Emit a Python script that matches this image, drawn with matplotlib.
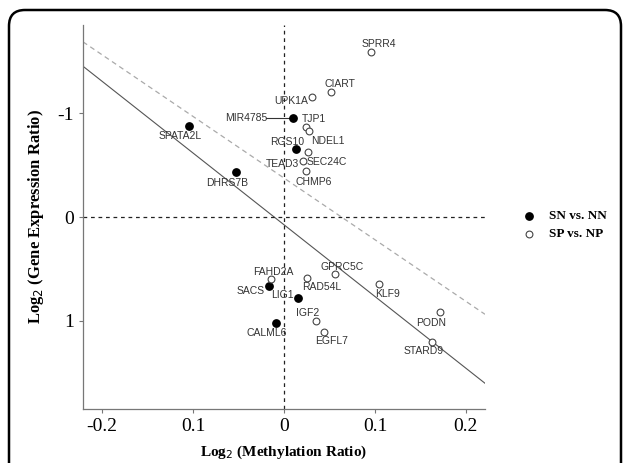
import numpy as np
import matplotlib.pyplot as plt
from matplotlib.patches import FancyBboxPatch

# SN vs. NN (filled)
genes_sn = ["SPATA2L", "DHRS7B", "MIR4785", "RGS10", "SACS", "LIG1", "CALML6"]
meth_sn = [-0.104, -0.053, 0.010, 0.013, -0.016, 0.015, -0.009]
expr_sn = [-0.876, -0.435, -0.957, -0.657, 0.663, 0.783, 1.024]

# SP vs. NP (open)
genes_sp = ["SPRR4", "CIART", "UPK1A", "TJP1", "NDEL1", "SEC24C", "TEAD3", "CHMP6",
            "FAHD2A", "RAD54L", "GPRC5C", "KLF9", "PODN", "STARD9", "IGF2", "EGFL7"]
meth_sp = [0.096, 0.052, 0.031, 0.024, 0.028, 0.026, 0.021, 0.024,
           -0.014, 0.025, 0.056, 0.104, 0.172, 0.163, 0.035, 0.044]
expr_sp = [-1.597, -1.208, -1.163, -0.870, -0.828, -0.628, -0.544, -0.441,
           0.602, 0.586, 0.551, 0.650, 0.921, 1.208, 1.002, 1.108]

# regression lines: intercept, slope
fit_sn = [0.075, 6.93]
fit_sp = [-0.376, 5.955]

x_ticks = [-0.2, -0.1, 0, 0.1, 0.2]
x_ticklabels = ["-0.2", "0.1", "0", "0.1", "0.2"]
y_ticks = [-1, 0, 1]
y_ticklabels = ["-1", "0", "1"]

# label positions (data coords)
label_pos = {
    "SPRR4": (0.1041, -1.669), "CIART": (0.0615, -1.282), "UPK1A": (0.0077, -1.121),
    "MIR4785": (-0.042, -0.954), "TJP1": (0.033, -0.944), "NDEL1": (0.0484, -0.737),
    "RGS10": (0.0033, -0.725), "SEC24C": (0.0467, -0.531), "TEAD3": (-0.0022, -0.515),
    "CHMP6": (0.0322, -0.341), "SPATA2L": (-0.114, -0.780), "DHRS7B": (-0.0626, -0.331),
    "GPRC5C": (0.0644, 0.480), "FAHD2A": (-0.0121, 0.534), "RAD54L": (0.041, 0.679),
    "SACS": (-0.0371, 0.712), "LIG1": (-0.0014, 0.754), "KLF9": (0.1138, 0.744),
    "IGF2": (0.0259, 0.928), "PODN": (0.1615, 1.021), "CALML6": (-0.0187, 1.118),
    "EGFL7": (0.0524, 1.201), "STARD9": (0.1531, 1.298),
}

W, H = 629, 463
fig = plt.figure(figsize=(6.29, 4.63), dpi=100)

# rounded frame
bg = fig.add_axes([0, 0, 1, 1], zorder=-1)
bg.set_xlim(0, W)
bg.set_ylim(H, 0)
bg.axis("off")
bg.add_patch(FancyBboxPatch((9, 10), 612, 480, boxstyle="round,pad=0,rounding_size=16",
                            fc="white", ec="black", lw=1.8))

ax = fig.add_axes([83 / W, 1 - 409 / H, (485 - 83) / W, (409 - 25) / H])
ax.patch.set_alpha(0)
xlim = (-0.221, 0.221)
ax.set_xlim(*xlim)
ax.set_ylim(1.855, -1.855)

xs = np.array(xlim)
ax.plot(xs, fit_sp[0] + fit_sp[1] * xs, color="#aaaaaa", lw=0.9, ls=(0, (4, 3)))
ax.plot(xs, fit_sn[0] + fit_sn[1] * xs, color="#555555", lw=0.8)
ax.axvline(0, color="#222222", lw=0.9, ls=(0, (3, 3)))
ax.axhline(0, color="#222222", lw=0.9, ls=(0, (3, 3)))

ax.scatter(meth_sn, expr_sn, s=28, color="black", zorder=3)
ax.scatter(meth_sp, expr_sp, s=24, facecolor="white", edgecolor="#444444", lw=0.8, zorder=3)

lab_font = dict(family=["Liberation Sans", "DejaVu Sans"], size=7.5, color="#333333",
                ha="center", va="center")
for g in genes_sn + genes_sp:
    lx, ly = label_pos[g]
    ax.text(lx, ly, g, zorder=4, **lab_font)

# leader line for MIR4785
i = genes_sn.index("MIR4785")
ax.plot([-0.0195, meth_sn[i] - 0.002], [expr_sn[i], expr_sn[i]], color="#333333", lw=0.8)

for s in ["top", "right"]:
    ax.spines[s].set_visible(False)
for s in ["left", "bottom"]:
    ax.spines[s].set_color("#777777")
    ax.spines[s].set_linewidth(0.9)

ax.set_xticks(x_ticks)
ax.set_xticklabels(x_ticklabels)
ax.set_yticks(y_ticks)
ax.set_yticklabels(y_ticklabels)
ax.tick_params(colors="#777777", length=3, width=0.8, labelcolor="black",
               labelsize=14)
for t in ax.get_xticklabels() + ax.get_yticklabels():
    t.set_family(["Liberation Serif", "DejaVu Serif"])

ax.set_xlabel(r"Log$_2$ (Methylation Ratio)", family=["Liberation Serif", "DejaVu Serif"],
              fontsize=11, fontweight="bold", labelpad=6)
ax.set_ylabel(r"Log$_2$ (Gene Expression Ratio)", family=["Liberation Serif", "DejaVu Serif"],
              fontsize=12, fontweight="bold", labelpad=8)
plt.rcParams["mathtext.fontset"] = "custom"

# legend
bg.scatter([529], [216], s=28, color="black")
bg.scatter([529], [234], s=24, facecolor="white", edgecolor="#444444", lw=0.8)
bg.text(549, 216, "SN vs. NN", family=["Liberation Serif", "DejaVu Serif"],
        fontsize=9.5, fontweight="bold", va="center")
bg.text(549, 234, "SP vs. NP", family=["Liberation Serif", "DejaVu Serif"],
        fontsize=9.5, fontweight="bold", va="center")

plt.savefig("out.png", dpi=100)
